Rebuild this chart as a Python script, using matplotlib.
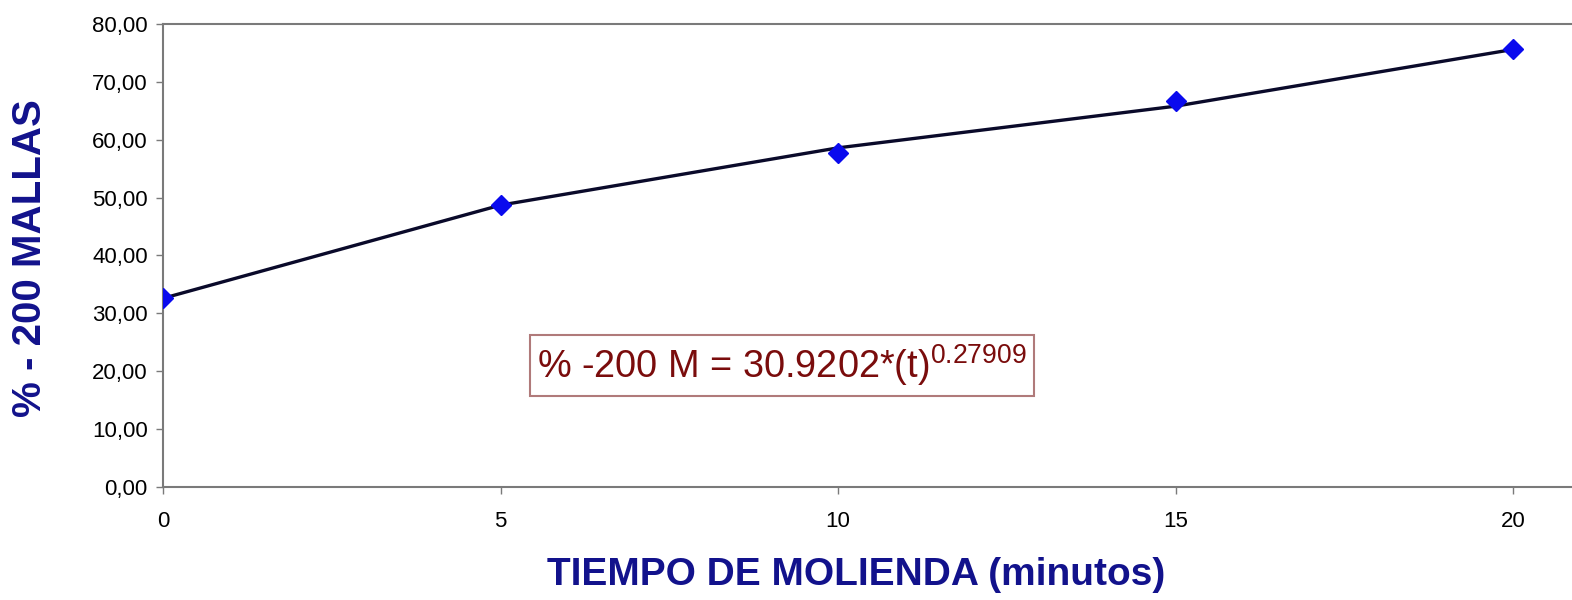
import matplotlib.pyplot as plt

# data
tiempo = [0, 5, 10, 15, 20]
malla_obs = [32.6, 48.7, 57.7, 66.7, 75.6]      # measured points
malla_curve = [32.6, 48.7, 58.6, 65.8, 75.6]    # drawn trend line
y_ticks = [0, 10, 20, 30, 40, 50, 60, 70, 80]
x_ticks = [0, 5, 10, 15, 20]

label_color = "#12128c"
axis_gray = "#7a7a7a"

fig = plt.figure(figsize=(15.72, 6.0), dpi=100)
ax = fig.add_axes([163 / 1572, 1 - 487 / 600, 1 - 163 / 1572, (487 - 24) / 600])

ax.plot(tiempo, malla_curve, color="#0a0a2a", linewidth=2.4, zorder=2)
ax.plot(tiempo, malla_obs, linestyle="none", marker="D", markersize=10,
        color="#0a0aee", markeredgecolor="#0a0aee", zorder=3)

ax.set_xlim(0, (1572 - 163) / 67.5)
ax.set_ylim(0, 80)
ax.set_xticks(x_ticks)
ax.set_yticks(y_ticks)
ax.set_yticklabels([f"{v:.2f}".replace(".", ",") for v in y_ticks])

for side in ["left", "top", "bottom"]:
    ax.spines[side].set_color(axis_gray)
    ax.spines[side].set_linewidth(1.5)
ax.spines["right"].set_visible(False)
ax.tick_params(axis="both", colors=axis_gray, labelcolor="black",
               length=5, width=1, labelsize=16, pad=6)
ax.tick_params(axis="x", pad=12)
for lab in ax.get_xticklabels() + ax.get_yticklabels():
    lab.set_family("Liberation Sans")

fig.text(856 / 1572, 1 - 575 / 600, "TIEMPO DE MOLIENDA (minutos)",
         ha="center", va="center", fontsize=28, fontweight="bold",
         color=label_color, family="Liberation Sans")
fig.text(30 / 1572, 1 - 258 / 600, "% - 200 MALLAS", rotation=90,
         ha="center", va="center", fontsize=29, fontweight="bold",
         color=label_color, family="Liberation Sans")

ax.text(9.17, 21.0, r"% -200 M = 30.9202*(t)$^{\mathregular{0.27909}}$",
        ha="center", va="center", fontsize=27.3, color="#7a0c0c",
        family="Liberation Sans",
        bbox=dict(boxstyle="square,pad=0.2", facecolor="white",
                  edgecolor="#b07a7a", linewidth=1.5))

fig.savefig("out.png", dpi=100)
